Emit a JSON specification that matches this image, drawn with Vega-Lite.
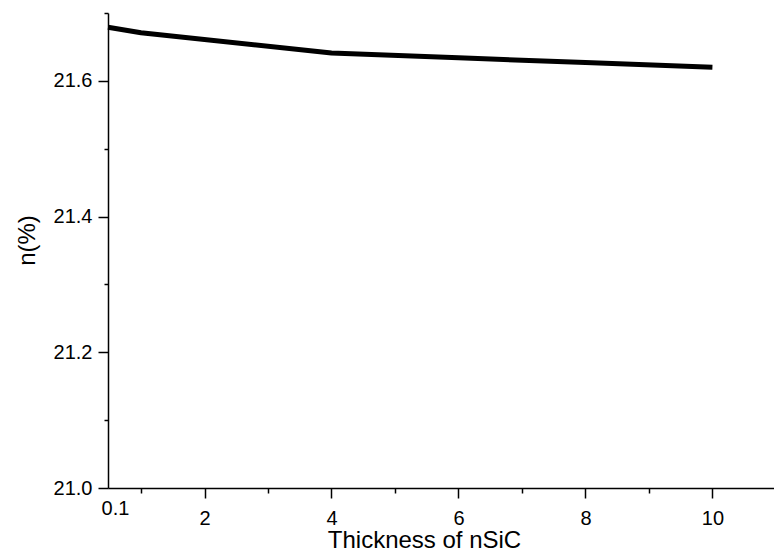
{
  "$schema": "https://vega.github.io/schema/vega-lite/v6.json",
  "width": 666,
  "height": 475,
  "autosize": "none",
  "padding": {"left": 108, "top": 13, "right": 0, "bottom": 67},
  "background": "white",
  "config": {
    "view": {"stroke": null},
    "axis": {
      "domainColor": "black",
      "domainWidth": 1.5,
      "tickColor": "black",
      "tickWidth": 1.5,
      "grid": false,
      "labelFont": "Liberation Sans",
      "labelFontSize": 20,
      "labelColor": "black",
      "titleFont": "Liberation Sans",
      "titleFontSize": 24,
      "titleFontWeight": "normal",
      "titleColor": "black",
      "labelFlush": false,
      "labelOverlap": false
    }
  },
  "data": {
    "values": [
      {"thickness": 0.48, "n": 21.679},
      {"thickness": 1, "n": 21.671},
      {"thickness": 4, "n": 21.641},
      {"thickness": 6, "n": 21.634},
      {"thickness": 8, "n": 21.627},
      {"thickness": 10, "n": 21.62}
    ]
  },
  "mark": {"type": "line", "color": "black", "strokeWidth": 5, "strokeJoin": "round", "strokeCap": "butt"},
  "encoding": {
    "x": {
      "field": "thickness",
      "type": "quantitative",
      "scale": {"domain": [0.48, 10.97], "nice": false, "zero": false},
      "axis": {
        "title": "Thickness of nSiC",
        "values": [0.48, 1, 2, 3, 4, 5, 6, 7, 8, 9, 10],
        "labelExpr": "datum.value < 0.9 ? '0.1' : (datum.value % 2 == 0 ? format(datum.value, 'd') : '')",
        "tickSize": {"condition": [{"test": "datum.value < 0.9", "value": 0}, {"test": "datum.value % 2 == 0", "value": 10}], "value": 5},
        "labelPadding": 10,
        "labelOffset": {"condition": {"test": "datum.value < 0.9", "value": 7}, "value": 0},
        "titleX": 316,
        "titleY": 59,
        "titleAlign": "center",
        "titleBaseline": "alphabetic"
      }
    },
    "y": {
      "field": "n",
      "type": "quantitative",
      "scale": {"domain": [21.0, 21.7], "nice": false, "zero": false},
      "axis": {
        "title": "n(%)",
        "values": [21.0, 21.1, 21.2, 21.3, 21.4, 21.5, 21.6, 21.7],
        "labelExpr": "abs(round(datum.value * 10) % 2) < 0.5 && datum.value < 21.65 ? format(datum.value, '.1f') : ''",
        "tickSize": {"condition": {"test": "abs(round(datum.value * 10) % 2) < 0.5 && datum.value < 21.65", "value": 10}, "value": 4},
        "labelPadding": 6,
        "titleX": -81,
        "titleY": 227,
        "titleAlign": "center",
        "titleBaseline": "middle"
      }
    }
  }
}
